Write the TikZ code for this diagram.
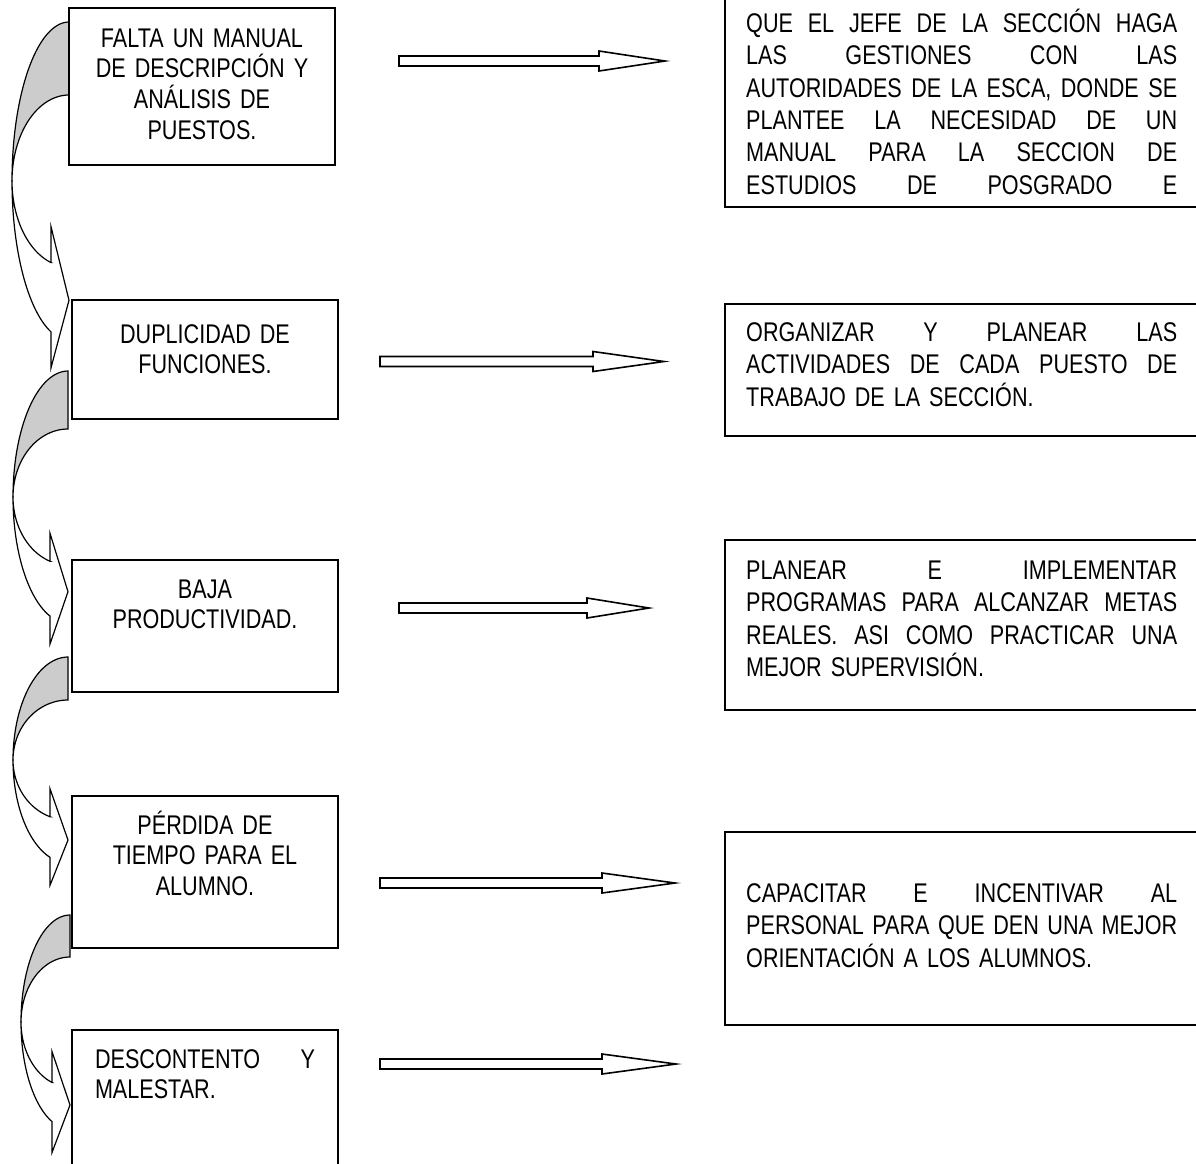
\documentclass[tikz,border=0pt]{standalone}
\usepackage{fontspec}
\setmainfont{Liberation Sans}[FakeStretch=0.80]
\newcommand{\lineajust}[2][431pt]{\leavevmode\hbox to #1{\spaceskip=.25em plus 1fil\relax #2}}
\newcommand{\tope}{\rule{0pt}{30pt}}

\begin{document}
\begin{tikzpicture}[x=1pt,y=-1pt,
    causa/.style={draw, line width=1.4pt, inner sep=0pt, minimum width=266pt},
    medida/.style={draw, line width=1.4pt, inner sep=0pt, minimum width=485pt},
    causatxt/.style={inner sep=0pt, anchor=north, text width=220pt, align=center, font=\fontsize{27}{30.7}\selectfont},
    medidatxt/.style={inner sep=0pt, anchor=north west, text width=431pt, align=left, font=\fontsize{27}{32.4}\selectfont},
    flecha/.style={draw, line width=1.6pt, line join=miter, fill=white},
    curva/.style={draw, line width=1.2pt, line join=miter}]
    \useasboundingbox (0,0) rectangle (1196,1163);
    \clip (0,0) rectangle (1196,1163);

    % curved arrows between the causes
    \foreach \E/\xL/\yo/\yi/\ym/\bo in {69/12/22/95/181/36, 68/13/371/429/497/28,
                                         68/13/657/700/760/28, 70/21/915/957/1022/31}{
        \pgfmathsetmacro\rx{\E-\xL}
        \pgfmathsetmacro\xb{\E-18}
        \pgfmathsetmacro\ang{180-acos((\E-\xb)/\rx)}
        \pgfmathsetmacro\ro{\ym-\yo}
        \pgfmathsetmacro\ri{\ym-\yi}
        \pgfmathsetmacro\na{\ym+\ri*sin(\ang)}
        \pgfmathsetmacro\nb{\ym+\ro*sin(\ang)}
        \pgfmathsetmacro\tp{(\na+\nb)/2+3}
        \draw[curva, fill=gray!40] plot[domain=270:180, samples=30, smooth] ({\E+\rx*cos(\x)},{\ym+\ro*sin(\x)})
            -- plot[domain=180:270, samples=30, smooth] ({\E+\rx*cos(\x)},{\ym+\ri*sin(\x)}) -- cycle;
        \draw[curva, fill=white] plot[domain=180:\ang, samples=30, smooth] ({\E+\rx*cos(\x)},{\ym+\ro*sin(\x)})
            -- (\xb,\nb+\bo) -- (\E,\tp) -- (\xb,\na-\bo) -- (\xb,\na)
            -- plot[domain=\ang:180, samples=30, smooth] ({\E+\rx*cos(\x)},{\ym+\ri*sin(\x)}) -- cycle;
    }

    % causes
    \node[causa, minimum height=157pt] (l1) at (202,86.5) {};
    \node[causa, minimum height=119pt] (l2) at (205,359.5) {};
    \node[causa, minimum height=132pt] (l3) at (205,626) {};
    \node[causa, minimum height=152pt] (l4) at (205,872) {};
    \node[causa, minimum height=170pt] (l5) at (205,1115) {};

    \node[causatxt] (l1t) at (202,17) {\tope FALTA UN MANUAL\\ DE DESCRIPCIÓN Y\\ ANÁLISIS DE\\ PUESTOS.};
    \node[causatxt] (l2t) at (205,313) {\tope DUPLICIDAD DE\\ FUNCIONES.};
    \node[causatxt] (l3t) at (205,568) {\tope BAJA\\ PRODUCTIVIDAD.};
    \node[causatxt] (l4t) at (205,804) {\tope PÉRDIDA DE\\ TIEMPO PARA EL\\ ALUMNO.};
    \node[causatxt, align=left] (l5t) at (205,1038) {\tope\lineajust[220pt]{DESCONTENTO Y}\\ MALESTAR.};

    % measures
    \node[medida, minimum height=237pt] (r1) at (967.5,88.5) {};
    \node[medida, minimum height=132pt] (r2) at (967.5,370) {};
    \node[medida, minimum height=170pt] (r3) at (967.5,625) {};
    \node[medida, minimum height=193pt] (r4) at (967.5,928.5) {};

    \node[medidatxt] (r1t) at (746,2) {\tope\lineajust{QUE EL JEFE DE LA SECCIÓN HAGA}\\
        \lineajust{LAS GESTIONES CON LAS}\\ \lineajust{AUTORIDADES DE LA ESCA, DONDE SE}\\
        \lineajust{PLANTEE LA NECESIDAD DE UN}\\ \lineajust{MANUAL PARA LA SECCION DE}\\
        \lineajust{ESTUDIOS DE POSGRADO E}};
    \node[medidatxt] (r2t) at (746,311) {\tope\lineajust{ORGANIZAR Y PLANEAR LAS}\\
        \lineajust{ACTIVIDADES DE CADA PUESTO DE}\\ TRABAJO DE LA SECCIÓN.};
    \node[medidatxt] (r3t) at (746,549) {\tope\lineajust{PLANEAR E IMPLEMENTAR}\\
        \lineajust{PROGRAMAS PARA ALCANZAR METAS}\\ \lineajust{REALES. ASI COMO PRACTICAR UNA}\\
        MEJOR SUPERVISIÓN.};
    \node[medidatxt] (r4t) at (746,872) {\tope\lineajust{CAPACITAR E INCENTIVAR AL}\\
        \lineajust{PERSONAL PARA QUE DEN UNA MEJOR}\\ ORIENTACIÓN A LOS ALUMNOS.};

    % block arrows
    \foreach \xa/\xh/\xt/\yy in {399/599/665/61, 380/593/664/361.5, 399/587/649/608,
                                 380/602/675/883, 380/602/676/1064}{
        \draw[flecha] (\xa,\yy-5) -- (\xh,\yy-5) -- (\xh,\yy-10) -- (\xt,\yy)
            -- (\xh,\yy+10) -- (\xh,\yy+5) -- (\xa,\yy+5) -- cycle;
    }
\end{tikzpicture}
\end{document}
